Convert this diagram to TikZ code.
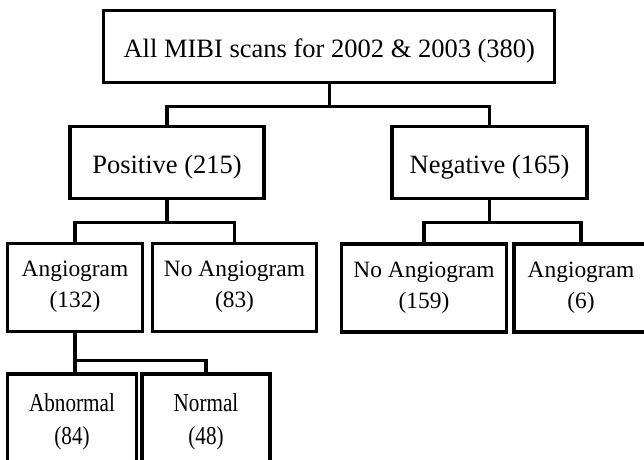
\documentclass[tikz,border=0pt]{standalone}
\usepackage{fontspec}
\setmainfont{Liberation Serif}
\newfontfamily\narrowserif[FakeStretch=0.82]{Liberation Serif}
\usetikzlibrary{positioning,calc}
\tikzset{
  box/.style={draw=black,line width=3.2pt,inner sep=0pt,align=center},
  link/.style={draw=black,line width=3.2pt},
  textdrop/.style={execute at begin node={\rule{0pt}{#1}}},
  bigtxt/.style={font=\fontsize{26.5}{32}\selectfont,textdrop=28pt},
  midtxt/.style={font=\fontsize{23.4}{31}\selectfont,textdrop=26pt},
  lowtxt/.style={font=\narrowserif\fontsize{25.8}{33}\selectfont},
}

\begin{document}
\begin{tikzpicture}[x=1pt,y=-1pt]
\useasboundingbox (0,0) rectangle (644,459);
\clip (0,0) rectangle (644,459);
% top level
\node[box,bigtxt,minimum width=451pt,minimum height=72pt] (all) at (329.3,46.7) {All MIBI scans for 2002 \& 2003 (380)};
\node[box,bigtxt,minimum width=194pt,minimum height=72pt] (pos) at (167,162.8) {Positive (215)};
\node[box,bigtxt,minimum width=195pt,minimum height=72pt] (neg) at (489.5,162.8) {Negative (165)};
% angiogram or not
\node[box,midtxt,minimum width=135pt,minimum height=88pt] (angP) at (75,287.2) {Angiogram\\(132)};
\node[box,midtxt,minimum width=163.4pt,minimum height=88pt] (noP) at (234.5,287.2) {No Angiogram\\(83)};
\node[box,midtxt,minimum width=164.7pt,minimum height=88pt] (noN) at (424,288) {No Angiogram\\(159)};
\node[box,midtxt,minimum width=134pt,minimum height=88pt] (angN) at (581,288) {Angiogram\\(6)};
% outcome
\node[box,lowtxt,minimum width=129pt,minimum height=95pt] (abn) at (72,421.5) {Abnormal\\(84)};
\node[box,lowtxt,minimum width=128pt,minimum height=95pt] (nor) at (206,421.5) {Normal\\(48)};

\draw[link] (all.south) -- ++(0,22) -| (pos.north);
\draw[link] (all.south) -- ++(0,22) -| (neg.north);
\draw[link] (pos.south) -- ++(0,22) -| (angP.north);
\draw[link] (pos.south) -- ++(0,22) -| (noP.north);
\draw[link] (neg.south) -- ++(0,22) -| (noN.north);
\draw[link] (neg.south) -- ++(0,22) -| (angN.north);
\draw[link] (angP.south) -- (angP.south |- abn.north);
\draw[link] (angP.south) -- ++(0,28) -| (nor.north);
\end{tikzpicture}
\end{document}
